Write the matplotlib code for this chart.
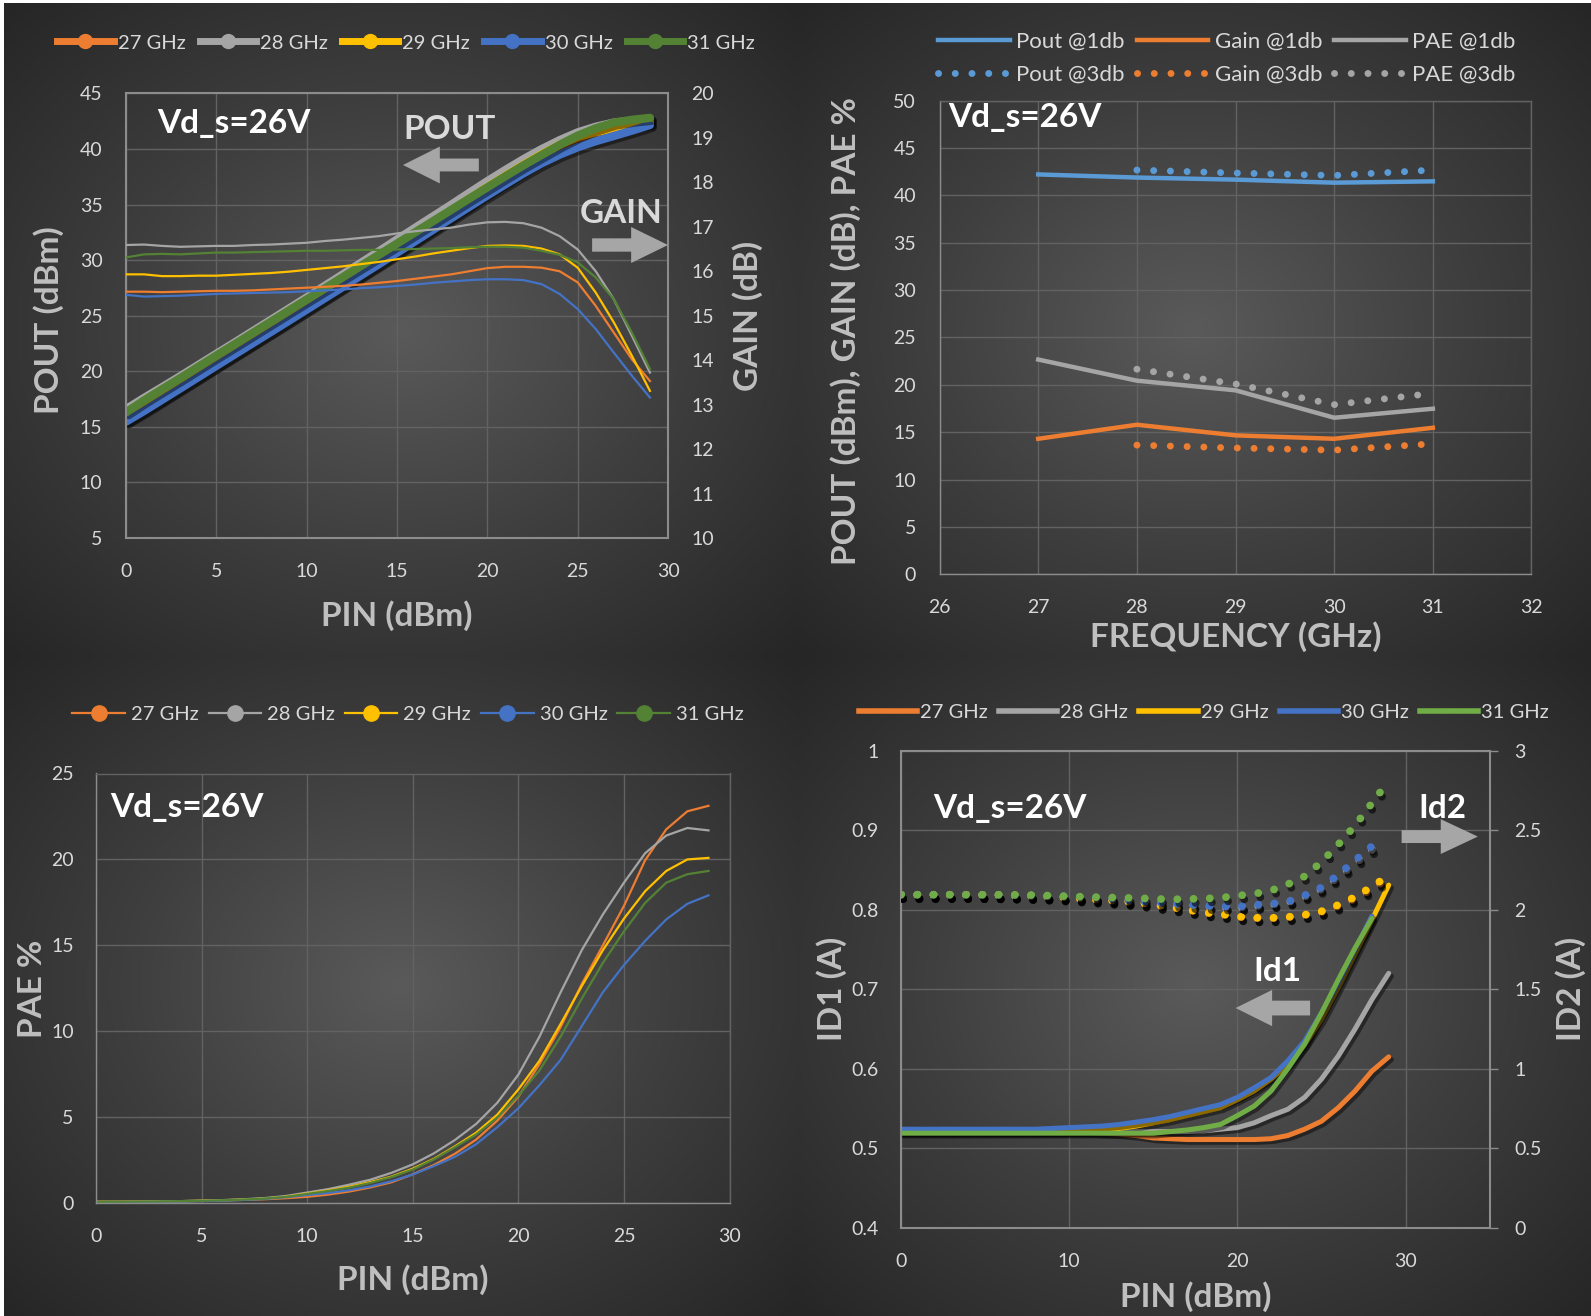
import matplotlib
matplotlib.use("Agg")
import matplotlib.pyplot as plt
import matplotlib.patheffects as pe
import numpy as np
from matplotlib.colors import LinearSegmentedColormap
from matplotlib.lines import Line2D
from matplotlib.patches import FancyArrow

plt.rcParams["font.family"] = ["Lato", "DejaVu Sans"]

# ---------------- data ----------------
freqs = ["27 GHz", "28 GHz", "29 GHz", "30 GHz", "31 GHz"]

# top-left: POUT / GAIN vs PIN
pin = list(range(30))
pout_27 = [15.54, 16.54, 17.53, 18.54, 19.55, 20.56, 21.56, 22.57, 23.59, 24.61, 25.63, 26.65, 27.67, 28.70, 29.74,
           30.78, 31.83, 32.88, 33.93, 35.00, 36.07, 37.10, 38.10, 39.08, 40.00, 40.75, 41.22, 41.62, 42.02, 42.53]
pout_28 = [16.59, 17.60, 18.57, 19.55, 20.56, 21.57, 22.57, 23.59, 24.60, 25.62, 26.64, 27.68, 28.71, 29.75, 30.79,
           31.85, 32.90, 33.94, 34.98, 36.05, 37.10, 38.11, 39.08, 39.98, 40.79, 41.49, 42.00, 42.37, 42.55, 42.72]
pout_29 = [15.93, 16.93, 17.89, 18.89, 19.90, 20.90, 21.92, 22.94, 23.96, 24.99, 26.03, 27.07, 28.11, 29.16, 30.21,
           31.27, 32.33, 33.40, 34.46, 35.52, 36.57, 37.58, 38.57, 39.51, 40.38, 41.08, 41.52, 41.85, 42.10, 42.31]
pout_30 = [15.47, 16.43, 17.44, 18.45, 19.47, 20.49, 21.50, 22.51, 23.52, 24.53, 25.55, 26.57, 27.59, 28.62, 29.64,
           30.67, 31.70, 32.74, 33.77, 34.80, 35.82, 36.82, 37.80, 38.71, 39.49, 40.15, 40.70, 41.17, 41.65, 42.16]
pout_31 = [16.31, 17.38, 18.39, 19.38, 20.40, 21.42, 22.42, 23.43, 24.44, 25.45, 26.46, 27.46, 28.47, 29.48, 30.48,
           31.49, 32.50, 33.51, 34.52, 35.54, 36.55, 37.55, 38.53, 39.46, 40.37, 41.20, 41.86, 42.37, 42.62, 42.80]
gain_27 = [15.54, 15.54, 15.53, 15.54, 15.55, 15.56, 15.56, 15.57, 15.59, 15.61, 15.63, 15.65, 15.67, 15.70, 15.74,
           15.78, 15.83, 15.88, 15.93, 16.00, 16.07, 16.10, 16.10, 16.08, 16.00, 15.75, 15.22, 14.62, 14.02, 13.53]
gain_28 = [16.59, 16.60, 16.57, 16.55, 16.56, 16.57, 16.57, 16.59, 16.60, 16.62, 16.64, 16.68, 16.71, 16.75, 16.79,
           16.85, 16.90, 16.94, 16.98, 17.05, 17.10, 17.11, 17.08, 16.98, 16.79, 16.49, 16.00, 15.37, 14.55, 13.72]
gain_29 = [15.93, 15.93, 15.89, 15.89, 15.90, 15.90, 15.92, 15.94, 15.96, 15.99, 16.03, 16.07, 16.11, 16.16, 16.21,
           16.27, 16.33, 16.40, 16.46, 16.52, 16.57, 16.58, 16.57, 16.51, 16.38, 16.08, 15.52, 14.85, 14.10, 13.31]
gain_30 = [15.47, 15.43, 15.44, 15.45, 15.47, 15.49, 15.50, 15.51, 15.52, 15.53, 15.55, 15.57, 15.59, 15.62, 15.64,
           15.67, 15.70, 15.74, 15.77, 15.80, 15.82, 15.82, 15.80, 15.71, 15.49, 15.15, 14.70, 14.17, 13.65, 13.16]
gain_31 = [16.31, 16.38, 16.39, 16.38, 16.40, 16.42, 16.42, 16.43, 16.44, 16.45, 16.46, 16.46, 16.47, 16.48, 16.48,
           16.49, 16.50, 16.51, 16.52, 16.54, 16.55, 16.55, 16.53, 16.46, 16.37, 16.20, 15.86, 15.37, 14.62, 13.80]

# top-right: compression points vs frequency
freq_1db = [27, 28, 29, 30, 31]
freq_3db = [28, 29, 30, 31]
pout_1db = [42.2, 41.87, 41.65, 41.33, 41.47]
gain_1db = [14.31, 15.79, 14.67, 14.31, 15.47]
pae_1db = [22.67, 20.44, 19.42, 16.53, 17.48]
pout_3db = [42.66, 42.35, 42.09, 42.66]
gain_3db = [13.64, 13.34, 13.11, 13.78]
pae_3db = [21.65, 20.09, 17.91, 19.11]

# bottom-left: PAE vs PIN
pae_27 = [0.08, 0.08, 0.09, 0.10, 0.11, 0.13, 0.16, 0.19, 0.23, 0.29, 0.37, 0.50, 0.68, 0.92, 1.22,
          1.68, 2.22, 2.88, 3.70, 4.80, 6.20, 8.10, 10.25, 12.75, 15.00, 17.30, 19.95, 21.75, 22.80, 23.12]
pae_28 = [0.08, 0.08, 0.09, 0.10, 0.12, 0.15, 0.18, 0.23, 0.30, 0.42, 0.62, 0.82, 1.08, 1.37, 1.77,
          2.26, 2.90, 3.68, 4.61, 5.84, 7.48, 9.69, 12.27, 14.72, 16.80, 18.65, 20.36, 21.39, 21.83, 21.69]
pae_29 = [0.08, 0.08, 0.09, 0.10, 0.12, 0.14, 0.17, 0.21, 0.27, 0.38, 0.56, 0.74, 0.96, 1.23, 1.55,
          2.01, 2.58, 3.31, 4.10, 5.15, 6.62, 8.29, 10.43, 12.63, 14.72, 16.56, 18.15, 19.33, 20.00, 20.09]
pae_30 = [0.07, 0.07, 0.08, 0.09, 0.10, 0.12, 0.15, 0.19, 0.25, 0.35, 0.47, 0.59, 0.76, 0.98, 1.28,
          1.67, 2.16, 2.70, 3.43, 4.42, 5.52, 6.87, 8.34, 10.30, 12.27, 13.86, 15.26, 16.51, 17.42, 17.91]
pae_31 = [0.08, 0.08, 0.09, 0.10, 0.12, 0.14, 0.17, 0.21, 0.27, 0.37, 0.54, 0.71, 0.91, 1.18, 1.52,
          1.96, 2.55, 3.26, 4.00, 4.98, 6.26, 7.73, 9.69, 11.90, 13.98, 15.82, 17.47, 18.65, 19.14, 19.33]

# bottom-right: ID1 / ID2 vs PIN
pin_id1 = list(range(30))
id1_27 = [0.520, 0.520, 0.520, 0.520, 0.520, 0.520, 0.520, 0.520, 0.520, 0.520, 0.520, 0.520, 0.519, 0.518, 0.516,
          0.513, 0.512, 0.511, 0.511, 0.511, 0.511, 0.511, 0.512, 0.516, 0.524, 0.534, 0.551, 0.572, 0.597, 0.615]
id1_28 = [0.521, 0.521, 0.521, 0.521, 0.521, 0.521, 0.521, 0.521, 0.521, 0.521, 0.521, 0.521, 0.521, 0.521, 0.521,
          0.521, 0.521, 0.521, 0.522, 0.524, 0.526, 0.532, 0.541, 0.549, 0.564, 0.587, 0.616, 0.650, 0.687, 0.720]
id1_29 = [0.522, 0.522, 0.522, 0.522, 0.522, 0.522, 0.522, 0.522, 0.522, 0.522, 0.522, 0.522, 0.523, 0.525, 0.528,
          0.532, 0.536, 0.541, 0.546, 0.551, 0.561, 0.572, 0.587, 0.605, 0.630, 0.662, 0.702, 0.744, 0.787, 0.831]
id1_30 = [0.524, 0.524, 0.524, 0.524, 0.524, 0.524, 0.524, 0.524, 0.524, 0.525, 0.526, 0.527, 0.528, 0.530, 0.533,
          0.536, 0.540, 0.545, 0.550, 0.555, 0.564, 0.576, 0.589, 0.610, 0.635, 0.670, 0.708, 0.750, 0.792]
id1_31 = [0.519, 0.519, 0.519, 0.519, 0.519, 0.519, 0.519, 0.519, 0.519, 0.519, 0.519, 0.519, 0.519, 0.519, 0.519,
          0.519, 0.521, 0.523, 0.526, 0.530, 0.541, 0.553, 0.572, 0.600, 0.631, 0.670, 0.712, 0.752, 0.789]
pin_id2 = [0, 2, 4, 6, 8, 10, 12, 14, 16, 18, 19, 20, 21, 22, 23, 24, 25, 26, 27, 28, 28.5]
id2_27 = [2.094, 2.094, 2.094, 2.092, 2.087, 2.076, 2.062, 2.046, 2.016, 1.981, 1.971, 1.955, 1.947, 1.946, 1.952,
          1.965, 1.985, 2.022, 2.070, 2.130, 2.165]
id2_28 = [2.094, 2.094, 2.094, 2.092, 2.088, 2.082, 2.071, 2.055, 2.038, 2.022, 2.017, 2.014, 2.022, 2.032, 2.046,
          2.082, 2.128, 2.205, 2.290, 2.375, 2.420]
id2_29 = [2.094, 2.094, 2.094, 2.092, 2.087, 2.076, 2.062, 2.048, 2.018, 1.983, 1.973, 1.957, 1.949, 1.948, 1.954,
          1.968, 1.990, 2.030, 2.080, 2.145, 2.180]
id2_30 = [2.094, 2.094, 2.094, 2.092, 2.088, 2.084, 2.073, 2.055, 2.040, 2.025, 2.022, 2.020, 2.030, 2.037, 2.050,
          2.090, 2.140, 2.220, 2.310, 2.400, 2.465]
id2_31 = [2.094, 2.094, 2.094, 2.094, 2.092, 2.084, 2.078, 2.073, 2.065, 2.070, 2.075, 2.088, 2.100, 2.120, 2.160,
          2.210, 2.300, 2.410, 2.530, 2.670, 2.740]

# ---------------- style ----------------
W, H = 1591, 1316
TICK_C = "#d9d9d9"
LABEL_C = "#bfbfbf"
GRID_C = "#626262"
SPINE_C = "#8c8c8c"
ARROW_C = "#a6a6a6"
c_dark = ["#ED7D31", "#A5A5A5", "#FFC000", "#4472C4", "#548235"]
c_bright = ["#ED7D31", "#A5A5A5", "#FFC000", "#4472C4", "#70AD47"]
c_top = {"pout": "#5B9BD5", "gain": "#ED7D31", "pae": "#A5A5A5"}

shadow = [pe.SimpleLineShadow(offset=(2, -2), shadow_color="black", alpha=0.45), pe.Normal()]
dot_shadow = [pe.SimpleLineShadow(offset=(1.5, -3), shadow_color="black", alpha=0.6), pe.Normal()]
DOT = (0, (0.01, 2.4))

fig = plt.figure(figsize=(W / 100, H / 100), dpi=100, facecolor="white")
bg_cmap = LinearSegmentedColormap.from_list("bg", ["#5a5a5a", "#3e3e3e", "#262626"])


def panel_bg(x0, y0, x1, y1):
    ax = fig.add_axes([x0 / W, 1 - y1 / H, (x1 - x0) / W, (y1 - y0) / H], zorder=-10)
    yy, xx = np.mgrid[-1:1:300j, -1:1:300j]
    r = np.clip(np.sqrt(xx ** 2 + yy ** 2) / 1.414, 0, 1)
    ax.imshow(r, cmap=bg_cmap, vmin=0, vmax=1, aspect="auto", interpolation="bilinear")
    ax.axis("off")


panel_bg(4, 3, 798, 656)
panel_bg(798, 3, W, 656)
panel_bg(4, 656, 798, H)
panel_bg(798, 656, W, H)


def make_axes(left, top, right, bottom):
    return fig.add_axes([left / W, 1 - bottom / H, (right - left) / W, (bottom - top) / H], facecolor="none")


def style(ax, frame=True, xpad=18, ypad=17):
    ax.grid(True, color=GRID_C, lw=1)
    ax.set_axisbelow(True)
    ax.tick_params(length=0, labelsize=14, colors=TICK_C)
    ax.tick_params(axis="x", pad=xpad)
    ax.tick_params(axis="y", pad=ypad)
    for s in ax.spines.values():
        s.set_color(SPINE_C if frame else GRID_C)
        s.set_linewidth(1.5 if frame else 1)
    ax.spines["left"].set_color(SPINE_C)
    ax.spines["bottom"].set_color(SPINE_C)


def block_arrow(ax, x0, x1, y, shaft, head, head_len):
    ax.add_patch(FancyArrow(x0, y, x1 - x0, 0, width=shaft, head_width=head, head_length=head_len,
                            length_includes_head=True, transform=ax.transAxes, color=ARROW_C,
                            clip_on=False, zorder=6, lw=0))


def note(ax, x, y, s, color="white", ha="left"):
    ax.text(x, y, s, transform=ax.transAxes, color=color, fontsize=24,
            fontweight="bold", ha=ha, va="center", zorder=7)


lab_kw = dict(fontsize=24, fontweight="bold", color=LABEL_C)

# ---------------- panel 1 ----------------
ax1 = make_axes(126, 93.4, 668, 538)
style(ax1, frame=True)
for y, c in zip([pout_27, pout_28, pout_29, pout_30, pout_31], c_dark):
    ax1.plot(pin, y, color=c, lw=6, solid_capstyle="round", path_effects=shadow)
ax1.set_xlim(0, 30)
ax1.set_ylim(5, 45)
ax1.set_xticks(range(0, 31, 5))
ax1.set_yticks(range(5, 46, 5))
ax1b = ax1.twinx()
ax1b.set_facecolor("none")
for y, c in zip([gain_27, gain_28, gain_29, gain_30, gain_31], c_dark):
    ax1b.plot(pin, y, color=c, lw=1.6)
ax1b.set_ylim(10, 20)
ax1b.set_yticks(range(10, 21))
ax1b.tick_params(length=0, labelsize=14, colors=TICK_C, pad=17)
for s in ax1b.spines.values():
    s.set_visible(False)
ax1.set_ylabel("POUT (dBm)", **lab_kw)
ax1.yaxis.set_label_coords(-0.115, 0.49)
ax1b.set_ylabel("GAIN (dB)", **lab_kw)
ax1b.yaxis.set_label_coords(1.118, 0.5)
ax1.set_xlabel("PIN (dBm)", **lab_kw)
ax1.xaxis.set_label_coords(0.5, -0.14)
note(ax1, 0.058, 0.933, "Vd_s=26V")
note(ax1b, 0.597, 0.919, "POUT", color="#d9d9d9", ha="center")
note(ax1b, 0.913, 0.73, "GAIN", color="#d9d9d9", ha="center")
block_arrow(ax1b, 0.651, 0.511, 0.839, 0.029, 0.083, 0.068)
block_arrow(ax1b, 0.86, 1.0, 0.659, 0.03, 0.081, 0.068)

h1 = [Line2D([], [], color=c, lw=5, marker="o", ms=10) for c in c_dark]
fig.legend(h1, freqs, loc="center", bbox_to_anchor=(406 / W, 1 - 43 / H), ncol=5, frameon=False,
           fontsize=14.5, labelcolor=TICK_C, handlelength=2.8, handletextpad=0.2, columnspacing=0.7)

# ---------------- panel 2 ----------------
ax2 = make_axes(939.6, 100.5, 1531.5, 574.4)
style(ax2, frame=False, xpad=18, ypad=17)
ax2.plot(freq_1db, pout_1db, color=c_top["pout"], lw=3.2)
ax2.plot(freq_1db, gain_1db, color=c_top["gain"], lw=3.2)
ax2.plot(freq_1db, pae_1db, color=c_top["pae"], lw=3.2)
ax2.plot(freq_3db, pout_3db, color=c_top["pout"], lw=5, ls=DOT, dash_capstyle="round")
ax2.plot(freq_3db, gain_3db, color=c_top["gain"], lw=5, ls=DOT, dash_capstyle="round")
ax2.plot(freq_3db, pae_3db, color=c_top["pae"], lw=5, ls=DOT, dash_capstyle="round")
ax2.set_xlim(26, 32)
ax2.set_ylim(0, 50)
ax2.set_xticks(range(26, 33))
ax2.set_yticks(range(0, 51, 5))
ax2.set_ylabel("POUT (dBm), GAIN (dB), PAE %", **lab_kw)
ax2.yaxis.set_label_coords(-0.1325, 0.514)
ax2.set_xlabel("FREQUENCY (GHz)", **lab_kw)
ax2.xaxis.set_label_coords(0.501, -0.099)
note(ax2, 0.015, 0.964, "Vd_s=26V")

h2 = [Line2D([], [], color=c_top["pout"], lw=3.2),
      Line2D([], [], color=c_top["pout"], lw=5, ls=DOT, dash_capstyle="round"),
      Line2D([], [], color=c_top["gain"], lw=3.2),
      Line2D([], [], color=c_top["gain"], lw=5, ls=DOT, dash_capstyle="round"),
      Line2D([], [], color=c_top["pae"], lw=3.2),
      Line2D([], [], color=c_top["pae"], lw=5, ls=DOT, dash_capstyle="round")]
l2 = ["Pout @1db", "Pout @3db", "Gain @1db", "Gain @3db", "PAE @1db", "PAE @3db"]
fig.legend(h2, l2, loc="center", bbox_to_anchor=(1227 / W, 1 - 58 / H), ncol=3, frameon=False,
           fontsize=16, labelcolor=TICK_C, handlelength=3.2, handletextpad=0.3, columnspacing=0.55,
           labelspacing=0.6)

# ---------------- panel 3 ----------------
ax3 = make_axes(95.9, 773.5, 729.6, 1203.2)
style(ax3, frame=False, xpad=18, ypad=16)
for y, c in zip([pae_27, pae_28, pae_29, pae_30, pae_31], c_dark):
    ax3.plot(pin, y, color=c, lw=1.6)
ax3.set_xlim(0, 30)
ax3.set_ylim(0, 25)
ax3.set_xticks(range(0, 31, 5))
ax3.set_yticks(range(0, 26, 5))
ax3.set_ylabel("PAE %", **lab_kw)
ax3.yaxis.set_label_coords(-0.0764, 0.498)
ax3.set_xlabel("PIN (dBm)", **lab_kw)
ax3.xaxis.set_label_coords(0.5, -0.143)
note(ax3, 0.023, 0.92, "Vd_s=26V")

h3 = [Line2D([], [], color=c, lw=1.6, marker="o", ms=11) for c in c_dark]
fig.legend(h3, freqs, loc="center", bbox_to_anchor=(408 / W, 1 - 714.5 / H), ncol=5, frameon=False,
           fontsize=14.5, labelcolor=TICK_C, handlelength=2.6, handletextpad=0.3, columnspacing=0.5)

# ---------------- panel 4 ----------------
ax4 = make_axes(901, 750.7, 1489.6, 1227.8)
style(ax4, frame=True, xpad=18, ypad=16)
for y, c in zip([id1_27, id1_28, id1_29, id1_30, id1_31], c_bright):
    ax4.plot(pin_id1[:len(y)], y, color=c, lw=3.6, solid_capstyle="round", path_effects=shadow)
ax4.set_xlim(0, 35)
ax4.set_ylim(0.4, 1.0)
ax4.set_xticks([0, 10, 20, 30])
ax4.set_yticks([0.4, 0.5, 0.6, 0.7, 0.8, 0.9, 1.0])
ax4.set_yticklabels(["0.4", "0.5", "0.6", "0.7", "0.8", "0.9", "1"])
ax4b = ax4.twinx()
ax4b.set_facecolor("none")
for y, c in zip([id2_27, id2_28, id2_29, id2_30, id2_31], c_bright):
    ax4b.plot(pin_id2, y, color=c, lw=5.6, ls=(0, (0.01, 2.08)), dash_capstyle="round",
              path_effects=dot_shadow)
ax4b.set_ylim(0, 3)
ax4b.set_yticks([0, 0.5, 1, 1.5, 2, 2.5, 3])
ax4b.set_yticklabels(["0", "0.5", "1", "1.5", "2", "2.5", "3"])
ax4b.tick_params(axis="y", length=6, width=1, color=SPINE_C, labelcolor=TICK_C, labelsize=14, pad=12)
for s in ax4b.spines.values():
    s.set_visible(False)
ax4.set_ylabel("ID1 (A)", **lab_kw)
ax4.yaxis.set_label_coords(-0.0917, 0.5)
ax4b.set_ylabel("ID2 (A)", **lab_kw)
ax4b.yaxis.set_label_coords(1.111, 0.5)
ax4.set_xlabel("PIN (dBm)", **lab_kw)
ax4.xaxis.set_label_coords(0.5, -0.111)
note(ax4b, 0.055, 0.878, "Vd_s=26V")
note(ax4b, 0.919, 0.878, "Id2", ha="center")
note(ax4b, 0.639, 0.538, "Id1", ha="center")
block_arrow(ax4b, 0.8505, 0.98, 0.82, 0.027, 0.073, 0.063)
block_arrow(ax4b, 0.695, 0.5685, 0.4606, 0.031, 0.076, 0.062)

h4 = [Line2D([], [], color=c, lw=4) for c in c_bright]
fig.legend(h4, freqs, loc="center", bbox_to_anchor=(1204 / W, 1 - 712.5 / H), ncol=5, frameon=False,
           fontsize=14.5, labelcolor=TICK_C, handlelength=2.9, handletextpad=0.15, columnspacing=0.55)

fig.savefig("out.png", dpi=100, facecolor=fig.get_facecolor())
